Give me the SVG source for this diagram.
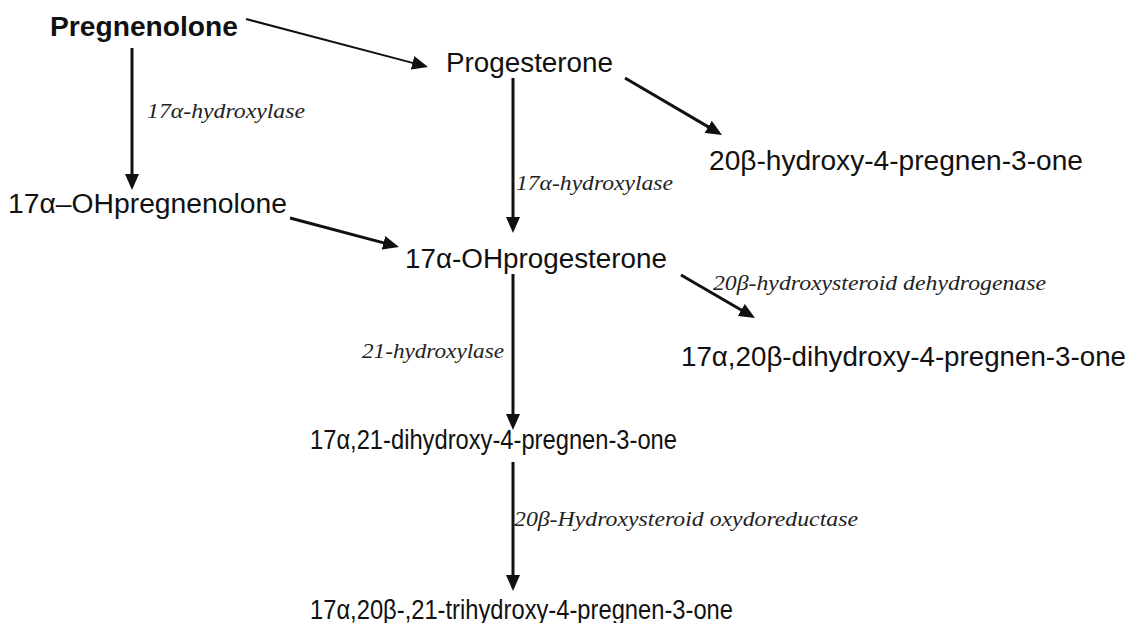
<svg xmlns="http://www.w3.org/2000/svg" width="1130" height="623" viewBox="0 0 1130 623">
<style>
.n{font-family:"Liberation Sans",Arial,sans-serif;font-size:27px;fill:#111}
.b{font-weight:bold}
.e{font-family:"Liberation Serif","Times New Roman",serif;font-style:italic;font-size:21px;fill:#222}
.c{stroke:#111;stroke-width:3;fill:none}
</style>
<defs>
<marker id="ah" viewBox="0 0 16 14" refX="6" refY="7" markerWidth="16" markerHeight="14" markerUnits="userSpaceOnUse" orient="auto">
<path d="M0,0 L16,7 L0,14 z" fill="#111"/>
</marker>
</defs>
<rect width="1130" height="623" fill="#fff"/>
<g id="connectors">
<line class="c" style="stroke-width:2" x1="246" y1="19" x2="418.3" y2="64.4" marker-end="url(#ah)"/>
<line class="c" x1="132" y1="48" x2="132" y2="180" marker-end="url(#ah)"/>
<line class="c" x1="513" y1="78" x2="513" y2="223" marker-end="url(#ah)"/>
<line class="c" x1="625" y1="78" x2="713.4" y2="129.9" marker-end="url(#ah)"/>
<line class="c" x1="290" y1="218" x2="389.3" y2="244.4" marker-end="url(#ah)"/>
<line class="c" x1="681" y1="275" x2="746.4" y2="313" marker-end="url(#ah)"/>
<line class="c" x1="513" y1="274" x2="513" y2="420" marker-end="url(#ah)"/>
<line class="c" x1="513" y1="462" x2="513" y2="581" marker-end="url(#ah)"/>
</g>
<g id="labels">
<text class="e" x="147" y="118" textLength="158" lengthAdjust="spacingAndGlyphs">17α-hydroxylase</text>
<text class="e" x="516" y="190" textLength="157" lengthAdjust="spacingAndGlyphs">17α-hydroxylase</text>
<text class="e" x="713" y="290" textLength="333" lengthAdjust="spacingAndGlyphs">20β-hydroxysteroid dehydrogenase</text>
<text class="e" x="362" y="358" textLength="142" lengthAdjust="spacingAndGlyphs">21-hydroxylase</text>
<text class="e" x="514" y="526" textLength="344" lengthAdjust="spacingAndGlyphs">20β-Hydroxysteroid oxydoreductase</text>
</g>
<g id="pregnenolone"><text class="n b" x="50" y="36" textLength="188" lengthAdjust="spacingAndGlyphs">Pregnenolone</text></g>
<g id="progesterone"><text class="n" x="446" y="72" textLength="167" lengthAdjust="spacingAndGlyphs">Progesterone</text></g>
<g id="hydroxypregnenone20b"><text class="n" x="709" y="170" textLength="374" lengthAdjust="spacingAndGlyphs">20β-hydroxy-4-pregnen-3-one</text></g>
<g id="ohpregnenolone"><text class="n" x="8" y="213" textLength="279" lengthAdjust="spacingAndGlyphs">17α–OHpregnenolone</text></g>
<g id="ohprogesterone"><text class="n" x="405" y="268" textLength="262" lengthAdjust="spacingAndGlyphs">17α-OHprogesterone</text></g>
<g id="dihydroxy1720"><text class="n" x="681" y="366" textLength="445" lengthAdjust="spacingAndGlyphs">17α,20β-dihydroxy-4-pregnen-3-one</text></g>
<g id="dihydroxy1721"><text class="n" x="310" y="449" textLength="367" lengthAdjust="spacingAndGlyphs">17α,21-dihydroxy-4-pregnen-3-one</text></g>
<g id="trihydroxy"><text class="n" x="310" y="619" textLength="423" lengthAdjust="spacingAndGlyphs">17α,20β-,21-trihydroxy-4-pregnen-3-one</text></g>
</svg>
